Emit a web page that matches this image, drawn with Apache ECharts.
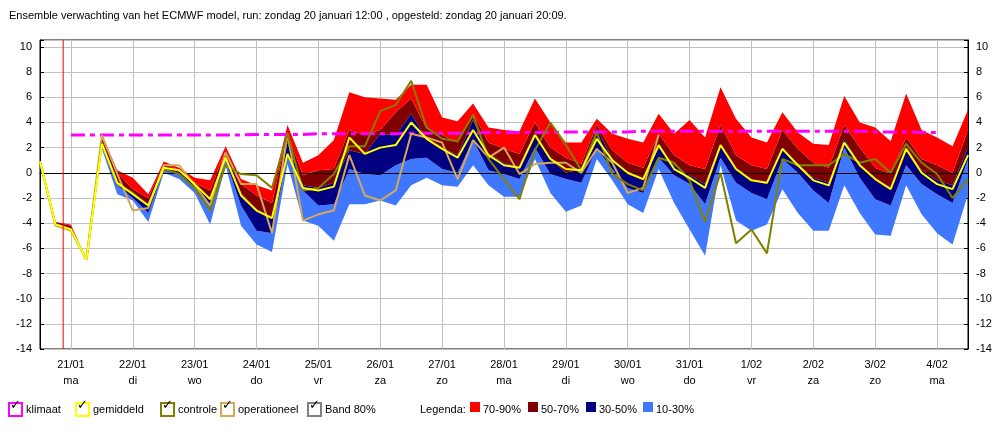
<!DOCTYPE html>
<html><head><meta charset="utf-8">
<script src="https://cdn.jsdelivr.net/npm/echarts@6/dist/echarts.min.js"></script>
<style>html,body{margin:0;padding:0;background:#fff}#c{width:1005px;height:434px}</style>
</head><body><div id="c"></div>
<script>
// 6-hourly steps from zondag 20/01 12:00
var dagen = ['21/01\nma','22/01\ndi','23/01\nwo','24/01\ndo','25/01\nvr','26/01\nza','27/01\nzo','28/01\nma','29/01\ndi','30/01\nwo','31/01\ndo','1/02\nvr','2/02\nza','3/02\nzo','4/02\nma'];
var p10 = [0.9,-4.1,-4.6,-6.9,1.9,-1.7,-2.2,-3.9,0,-0.5,-1.6,-4.1,0.6,-4.2,-5.7,-6.3,0.7,-3.8,-4.2,-5.4,-2.5,-2.5,-2.2,-2.6,-1.0,-0.4,-1.0,-1.1,0.6,-1.0,-1.9,-1.9,1.1,-1.6,-3.1,-2.6,1.1,-0.6,-2.5,-3.2,0.3,-2.4,-4.5,-6.6,0.6,-3.8,-4.6,-4.1,-1.3,-3.2,-4.6,-4.6,-1.0,-3.2,-4.9,-5.0,-1.0,-3.3,-4.8,-5.7,-1.7];
var p30 = [0.9,-4.0,-4.5,-6.9,2.1,-1.0,-2.0,-3.2,0.2,-0.2,-1.3,-2.6,1.0,-2.6,-4.6,-4.8,1.4,-1.4,-2.6,-2.5,0.3,-0.1,-0.2,0.6,1.1,1.2,0.3,0,2.6,0.2,-0.1,-0.5,2.0,-0.1,-0.5,-0.8,1.9,0.3,-1.2,-1.6,1.2,-0.2,-0.9,-2.5,1.2,-0.8,-1.6,-2.1,1.1,0,-1.4,-2.4,2.0,-0.4,-2.1,-2.6,0.6,-0.9,-1.7,-2.4,1.1];
var p50 = [0.9,-4.0,-4.4,-6.9,2.4,-0.7,-1.7,-2.6,0.4,0.1,-1.0,-2.0,1.3,-1.6,-2.9,-3.5,2.4,-1.0,-1.2,-0.8,1.8,1.5,3.1,3.0,4.7,2.7,2.0,1.4,4.2,1.5,0.8,0.4,3.2,1.1,0,0.3,3.5,1.1,-0.1,-0.6,2.0,0.6,-0.2,-0.9,2.2,0.4,-0.6,-0.9,2.0,0.7,-0.4,-0.8,2.7,0.6,-0.5,-1.2,1.9,0.2,-0.6,-1.0,2.0];
var p70 = [0.9,-3.9,-4.2,-6.9,2.7,0,-1.3,-2.0,0.7,0.2,-0.8,-1.4,1.8,-0.9,-1.8,-2.4,3.1,-0.2,0.2,0.3,3.4,3.0,3.4,4.8,5.9,3.5,3.0,2.4,4.7,2.4,1.9,1.5,4.0,2.0,1.2,0.7,3.8,1.8,0.8,0.4,3.1,1.4,0.6,0.3,3.8,1.4,0.6,0.3,3.4,1.9,0.8,0.4,3.8,2.0,0.4,-0.1,2.8,1.1,0.6,0,3.4];
var p90 = [0.9,-3.9,-4.1,-6.9,3.0,0.2,-0.4,-1.7,0.9,0.4,-0.4,-0.6,2.1,-0.5,-1.0,-1.4,3.8,0.8,1.4,2.6,6.4,6.0,5.9,5.8,7.0,7.0,4.4,4.1,5.5,3.6,3.4,3.3,5.9,4.0,2.4,2.4,4.3,3.1,2.7,2.4,4.7,3.1,4.2,2.8,6.8,4.3,2.8,2.4,4.8,3.2,2.3,2.2,6.1,4.0,3.6,2.5,6.3,3.4,2.8,2.1,5.0];
var gemiddeld = [0.9,-4.1,-4.5,-6.9,2.3,-0.8,-1.7,-2.6,0.4,0.2,-0.9,-2.1,1.2,-1.8,-3.0,-3.6,1.5,-1.2,-1.4,-1.1,2.8,1.5,2.0,2.2,4.0,2.7,1.9,1.2,3.4,1.4,0.6,0.4,3.0,1.1,0.3,0.2,2.7,1.0,0,-0.5,2.2,0.3,-0.4,-1.2,2.2,0.3,-0.6,-0.8,1.9,0.6,-0.6,-1.0,2.4,0.6,-0.5,-1.3,1.9,0,-0.9,-1.3,1.4];
var controle = [0.9,-4.1,-4.5,-6.9,2.4,-0.9,-1.6,-2.6,0.3,-0.1,-1.2,-3.0,0.6,-0.1,-0.2,-1.2,3.1,-1.4,-1.2,-0.1,2.1,2.1,4.9,5.4,7.3,3.6,2.7,2.5,4.6,1.1,-0.5,-2.1,1.8,4.0,2.2,0.2,3.2,-0.1,-0.9,-1.4,1.2,0.8,-0.6,-3.9,0,-5.6,-4.5,-6.4,1.1,0.6,0.6,0.6,1.5,0.8,1.1,0,2.3,0.8,-0.1,-2.0,-0.5];
var operationeel = [0.9,-4.2,-4.6,-6.9,3.0,-0.1,-3.0,-2.8,0.6,0.6,-1.0,-2.6,1.6,-0.9,-0.9,-4.8,3.1,-3.8,-3.3,-3.0,1.4,-1.8,-2.2,-1.4,3.1,2.8,2.4,-0.5,2.6,1.2,2.0,-0.1,0.7,0.8,0.8,0,1.9,0.8,-1.6,-1.2,3.0];
var klimaat = [null,null,3.0,3.0,3.0,3.0,3.0,3.0,3.0,3.0,3.0,3.0,3.0,3.0,3.05,3.05,3.05,3.05,3.1,3.1,3.1,3.1,3.1,3.1,3.15,3.15,3.15,3.15,3.15,3.2,3.2,3.2,3.2,3.2,3.25,3.25,3.25,3.25,3.25,3.3,3.3,3.3,3.3,3.3,3.3,3.3,3.3,3.3,3.3,3.3,3.3,3.3,3.3,3.3,3.25,3.25,3.25,3.2,3.2];
var yTicks = [-14,10,2];

var cats = p10.map(function(v,i){ var d=(i-2)/4; return (i>=2 && (i-2)%4===0) ? dagen[d] : ''; });
function diff(a,b){ return a.map(function(v,i){ return +(v-b[i]).toFixed(2); }); }
function band(name,data,color){ return {name:name,type:'line',stack:'b',stackStrategy:'all',data:data,symbol:'none',lineStyle:{width:0,opacity:0},areaStyle:{color:color,opacity:1},silent:true}; }
function lijn(name,data,color,w){ return {name:name,type:'line',data:data,symbol:'none',lineStyle:{color:color,width:w},z:5}; }

var chart = echarts.init(document.getElementById('c'));
var g = [];
var items = [['klimaat','#ff00ff',8],['gemiddeld','#ffff00',75],['controle','#808000',160],['operationeel','#d4a857',220],['Band 80%','#808080',307]];
items.forEach(function(it){
  g.push({type:'rect',left:it[2],top:402,shape:{width:13,height:13},style:{fill:'#fff',stroke:it[1],lineWidth:2}});
  g.push({type:'text',left:it[2]+2,top:399,style:{text:'\u2713',fill:'#000',font:'bold 13px DejaVu Sans'}});
  g.push({type:'text',left:it[2]+18,top:404,style:{text:it[0],fill:'#000',font:'11px Arial, Liberation Sans'}});
});
g.push({type:'text',left:420,top:404,style:{text:'Legenda:',fill:'#000',font:'11px Liberation Sans'}});
[['70-90%','#ff0000',470],['50-70%','#800000',528],['30-50%','#000080',586],['10-30%','#3f77ff',643]].forEach(function(it){
  g.push({type:'rect',left:it[2],top:402,shape:{width:10,height:10},style:{fill:it[1]}});
  g.push({type:'text',left:it[2]+13,top:404,style:{text:it[0],fill:'#000',font:'11px Liberation Sans'}});
});

var yLab = {color:'#000',fontSize:11,fontFamily:'Liberation Sans',formatter:function(v){ return v%2===0 ? v : ''; }};
chart.setOption({
  animation:false,
  backgroundColor:'#fff',
  title:{text:'Ensemble verwachting van het ECMWF model, run: zondag 20 januari 12:00 , opgesteld: zondag 20 januari 20:09.',left:4,top:5,textStyle:{fontSize:11,fontWeight:'normal',color:'#000',fontFamily:'Liberation Sans'}},
  graphic:g,
  grid:{left:40,right:37,top:40,bottom:85,show:true,borderColor:'#000',borderWidth:1},
  xAxis:[{type:'category',data:cats,boundaryGap:false,
    axisLine:{lineStyle:{color:'#000'}},axisTick:{show:false},
    axisLabel:{interval:0,color:'#000',fontSize:11,lineHeight:16,fontFamily:'Liberation Sans',margin:8},
    splitLine:{show:true,interval:function(i){return i>=2&&(i-2)%4===0;},lineStyle:{color:'#c0c0c0'}}},
    {type:'value',min:0,max:60,show:false}],
  yAxis:[{type:'value',min:yTicks[0],max:10.55,interval:yTicks[2],position:'left',
    axisLine:{show:true,lineStyle:{color:'#000'}},axisTick:{show:true,inside:true,length:4},
    axisLabel:yLab,splitLine:{lineStyle:{color:'#c0c0c0'}}},
    {type:'value',min:yTicks[0],max:10.55,interval:yTicks[2],position:'right',
    axisLine:{show:true,lineStyle:{color:'#000'}},axisTick:{show:true,inside:true,length:4},
    axisLabel:yLab,splitLine:{show:false}}],
  series:[
    {name:'basis',type:'line',stack:'b',stackStrategy:'all',data:p10,symbol:'none',lineStyle:{width:0,opacity:0},silent:true,
     markLine:{silent:true,symbol:'none',label:{show:false},lineStyle:{color:'#000',width:1,type:'solid'},data:[{yAxis:0}]}},
    band('10-30%',diff(p30,p10),'#3f77ff'),
    band('30-50%',diff(p50,p30),'#000080'),
    band('50-70%',diff(p70,p50),'#800000'),
    band('70-90%',diff(p90,p70),'#ff0000'),
    {name:'run',type:'line',xAxisIndex:1,data:[[1.5,-14],[1.5,10.55]],symbol:'none',lineStyle:{color:'#ff0000',width:1},z:6},
    lijn('klimaat',klimaat,'#ff00ff',3),
    lijn('operationeel',operationeel,'#d4a857',2),
    lijn('controle',controle,'#808000',2),
    lijn('gemiddeld',gemiddeld,'#ffff00',2)
  ]
});
chart.setOption({series:[{},{},{},{},{},{},{lineStyle:{type:[14,5,5,5]}}]});
</script></body></html>
